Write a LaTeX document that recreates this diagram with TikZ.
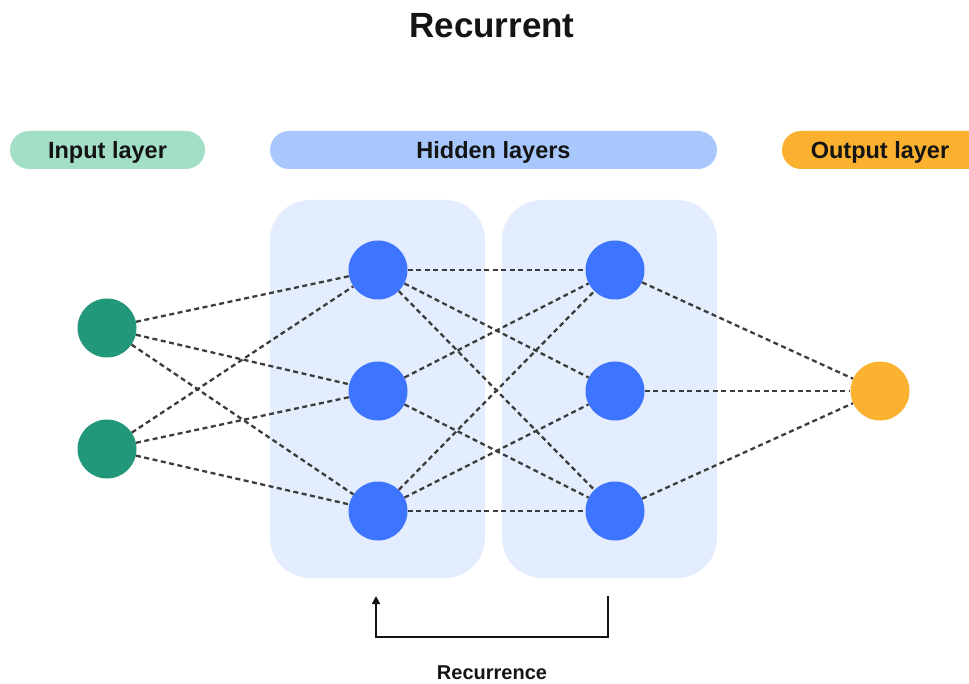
\documentclass[tikz,border=0pt]{standalone}
\usepackage{fontspec}
\setmainfont{Liberation Sans}
\usetikzlibrary{arrows.meta}

\definecolor{inpill}{HTML}{A3DEC6}
\definecolor{hidpill}{HTML}{A8C8FD}
\definecolor{outpill}{HTML}{FBB130}
\definecolor{panelbg}{HTML}{E3EDFD}
\definecolor{inneuron}{HTML}{23977A}
\definecolor{hidneuron}{HTML}{3D75FE}
\definecolor{outneuron}{HTML}{FBB230}
\definecolor{edgegray}{HTML}{3C3C3C}
\definecolor{ink}{HTML}{141414}

\tikzset{
  pill/.style={rectangle, rounded corners=19pt, minimum height=38pt, inner sep=0pt},
  pilltext/.style={text=ink, font=\fontsize{23.5}{28}\selectfont\bfseries},
  panel/.style={rectangle, rounded corners=40pt, fill=panelbg, minimum width=215pt, minimum height=378pt, inner sep=0pt},
  neuron/.style={circle, minimum size=59pt, inner sep=0pt},
  link/.style={draw=edgegray, line width=2.3pt, dash pattern=on 5pt off 3.5pt},
  recur/.style={draw=ink, line width=1.7pt, -{Triangle[width=8pt,length=8pt]}},
}

\begin{document}
\begin{tikzpicture}[x=1pt,y=-1pt]
\useasboundingbox (0,0) rectangle (969,684);
\clip (0,0) rectangle (969,684);

% title
\node[text=ink, font=\fontsize{35}{40}\selectfont\bfseries] (title) at (492,26) {Recurrent};

% layer headers
\node[pill, fill=inpill, minimum width=195pt] (inhead) at (107.5,150) {};
\node[pilltext] (intext) at (107.5,152) {Input layer};
\node[pill, fill=hidpill, minimum width=447pt] (hidhead) at (493.5,150) {};
\node[pilltext] (hidtext) at (493.5,152) {Hidden layers};
\node[pill, fill=outpill, minimum width=220pt] (outhead) at (892,150) {};
\node[pilltext] (outtext) at (880,152) {Output layer};

% hidden layer panels
\node[panel] (lpanel) at (377.5,389) {};
\node[panel] (rpanel) at (609.5,389) {};

% neurons
\node[neuron, fill=inneuron] (i1) at (107,328) {};
\node[neuron, fill=inneuron] (i2) at (107,449) {};
\node[neuron, fill=hidneuron] (a1) at (378,270) {};
\node[neuron, fill=hidneuron] (a2) at (378,391) {};
\node[neuron, fill=hidneuron] (a3) at (378,511) {};
\node[neuron, fill=hidneuron] (b1) at (615,270) {};
\node[neuron, fill=hidneuron] (b2) at (615,391) {};
\node[neuron, fill=hidneuron] (b3) at (615,511) {};
\node[neuron, fill=outneuron] (o) at (880,391) {};

% connections
\foreach \s in {i1,i2}
  \foreach \t in {a1,a2,a3}
    \draw[link] (\s) -- (\t);
\foreach \s/\t in {a1/b1,a1/b2,a1/b3,a2/b1,a2/b3,a3/b1,a3/b2,a3/b3}
  \draw[link] (\s) -- (\t);
\foreach \s in {b1,b2,b3}
  \draw[link] (\s) -- (o);

% recurrence loop
\coordinate (rstart) at (608,596);
\coordinate (rend) at (376,596);
\draw[recur] (rstart) -- ++(0,41) -| (rend);
\node[text=ink, font=\fontsize{20}{24}\selectfont\bfseries, inner sep=1pt] (rlabel) at (492,673) {Recurrence};
\end{tikzpicture}
\end{document}
